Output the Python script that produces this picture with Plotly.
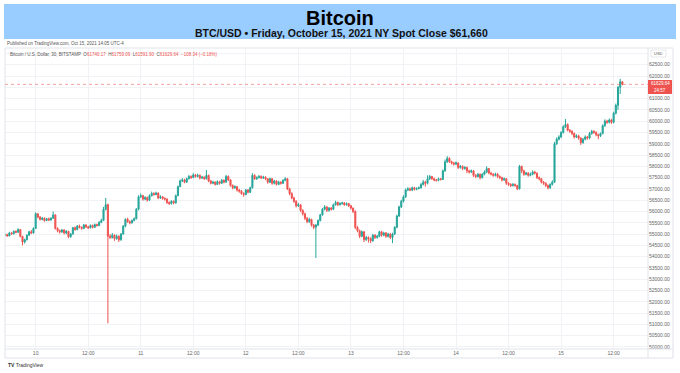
import pandas as pd
import plotly.graph_objects as go

# ---------------- data (30-minute BTC/USD candles) ----------------
start_time = "2021-10-09 17:00"
opens = [
    54950, 54980, 54920, 55050, 55010, 55120, 55080, 55200, 54900, 54650,
    54750, 54950, 55100, 55050, 55250, 55900, 55750, 55650, 55700, 55600,
    55680, 55620, 55700, 55850, 55250, 55150, 55100, 55180, 55050, 55120,
    54880, 55000, 55280, 55200, 55350, 55300, 55250, 55400, 55320, 55280,
    55380, 55300, 55420, 55380, 55520, 55600, 56100, 56300, 54900, 54850,
    54950, 54800, 54900, 54750, 55000, 55350, 55650, 55550, 55500, 55600,
    55680, 56100, 56650, 56700, 56550, 56620, 56500, 56700, 56800, 56750,
    56820, 56600, 56650, 56580, 56550, 56400, 56350, 56450, 56380, 56700,
    57100, 57350, 57400, 57300, 57450, 57550, 57500, 57620, 57550, 57600,
    57480, 57520, 57450, 57600, 57350, 57250, 57300, 57200, 57320, 57250,
    57380, 57300, 57550, 57400, 57150, 57050, 57100, 56950, 56900, 56800,
    56750, 56950, 56850, 57050, 57600, 57450, 57500, 57550, 57480, 57520,
    57450, 57300, 57450, 57250, 57350, 57200, 57300, 57250, 57380, 57450,
    57000, 56800, 56600, 56450, 56250, 56300, 56050, 55900, 55700, 55550,
    55650, 55400, 55300, 55400, 55600, 55850, 56100, 56200, 56050, 56150,
    56100, 56300, 56400, 56300, 56350, 56380, 56300, 56350, 56250, 56150,
    56000, 55300, 55150, 54900, 55100, 54750, 54850, 54800, 54700, 54950,
    54850, 54900, 55100, 54950, 55050, 54900, 55000, 54850, 55000, 55300,
    55800, 56200, 56450, 56650, 56950, 57000, 56950, 57050, 56980, 57020,
    57050, 57200, 57300, 57250, 57450, 57550, 57450, 57400, 57380, 57450,
    57420, 57800, 58200, 58350, 58200, 58150, 58100, 58150, 57950, 58000,
    57900, 57950, 57800, 57750, 57800, 57600, 57550, 57650, 57500, 57650,
    57750, 57900, 57700, 57650, 57600, 57650, 57550, 57500, 57400, 57450,
    57250, 57200, 57150, 57200, 57150, 57000, 58000, 57800, 57650, 57700,
    57600, 57650, 57750, 57700, 57500, 57450, 57300, 57250, 57150, 57050,
    57200, 57300, 59000, 59200, 59300, 59500, 59750, 59850, 59600, 59550,
    59450, 59300, 59350, 59250, 59050, 59200, 59300, 59250, 59450, 59550,
    59500, 59400, 59350, 59450, 59800, 60000, 59950, 60050, 59950, 60350,
    60700, 61500, 61740.17,
]
highs = [
    55030, 55010, 55100, 55090, 55160, 55170, 55260, 55220, 54920, 54800,
    54990, 55150, 55180, 55300, 55960, 55930, 55800, 55760, 55740, 55720,
    55730, 55750, 56000, 55870, 55300, 55200, 55230, 55210, 55180, 55140,
    55050, 55320, 55340, 55400, 55420, 55340, 55450, 55440, 55360, 55430,
    55420, 55470, 55460, 55570, 55680, 56200, 56600, 56350, 55000, 55050,
    54990, 54980, 54950, 55050, 55400, 55700, 55720, 55600, 55650, 55740,
    56150, 56720, 56800, 56740, 56680, 56660, 56760, 56880, 56850, 56880,
    56840, 56720, 56690, 56630, 56580, 56450, 56500, 56490, 56750, 57150,
    57420, 57480, 57450, 57500, 57620, 57600, 57700, 57660, 57680, 57640,
    57580, 57560, 57840, 57630, 57400, 57360, 57340, 57380, 57360, 57440,
    57420, 57620, 57600, 57430, 57200, 57160, 57130, 57000, 56950, 56850,
    57000, 56990, 57100, 57700, 57650, 57560, 57620, 57600, 57580, 57560,
    57480, 57500, 57480, 57400, 57380, 57360, 57340, 57430, 57520, 57480,
    57050, 56850, 56650, 56500, 56380, 56330, 56100, 55950, 55760, 55720,
    55680, 55450, 55450, 55650, 55900, 56160, 56280, 56240, 56200, 56200,
    56350, 56480, 56440, 56410, 56430, 56420, 56400, 56380, 56290, 56180,
    56050, 55350, 55200, 55160, 55130, 54920, 54900, 54860, 55000, 55000,
    54960, 55150, 55140, 55100, 55090, 55060, 55040, 55060, 55350, 55860,
    56260, 56520, 56720, 57020, 57080, 57060, 57100, 57090, 57070, 57110,
    57260, 57400, 57360, 57600, 57620, 57580, 57500, 57440, 57500, 57480,
    57860, 58300, 58450, 58400, 58250, 58200, 58220, 58180, 58060, 58040,
    58010, 57990, 57850, 57860, 57830, 57650, 57700, 57680, 57700, 57820,
    58000, 57930, 57760, 57700, 57720, 57700, 57600, 57540, 57500, 57480,
    57300, 57250, 57260, 57240, 57180, 58060, 58030, 57850, 57760, 57740,
    57720, 57820, 57800, 57730, 57550, 57480, 57350, 57290, 57200, 57250,
    57380, 59080, 59280, 59380, 59560, 59820, 60100, 59900, 59650, 59600,
    59500, 59420, 59400, 59290, 59260, 59370, 59350, 59520, 59620, 59600,
    59550, 59450, 59500, 59860, 60080, 60060, 60120, 60100, 60420, 60780,
    61560, 61870, 61759.09,
]
lows = [
    54900, 54880, 54900, 54970, 54990, 55040, 55060, 54850, 54500, 54580,
    54720, 54920, 55000, 55020, 55230, 55700, 55600, 55610, 55550, 55570,
    55580, 55590, 55680, 55200, 55080, 55020, 55050, 54980, 54990, 54820,
    54840, 54980, 55150, 55170, 55250, 55190, 55220, 55270, 55220, 55250,
    55250, 55270, 55330, 55350, 55480, 55580, 56050, 51050, 54780, 54800,
    54700, 54750, 54650, 54700, 54980, 55300, 55500, 55430, 55460, 55560,
    55650, 56050, 56600, 56480, 56500, 56440, 56470, 56660, 56700, 56720,
    56550, 56560, 56520, 56480, 56330, 56290, 56310, 56320, 56350, 56680,
    57080, 57300, 57250, 57270, 57420, 57440, 57480, 57500, 57510, 57420,
    57440, 57400, 57420, 57300, 57200, 57210, 57150, 57170, 57190, 57220,
    57250, 57280, 57350, 57100, 56980, 57000, 56880, 56830, 56740, 56650,
    56720, 56800, 56820, 57020, 57400, 57400, 57460, 57430, 57440, 57390,
    57230, 57260, 57180, 57200, 57150, 57170, 57190, 57220, 57340, 56950,
    56720, 56540, 56380, 56180, 56200, 55980, 55820, 55620, 55480, 55500,
    55330, 55220, 53940, 55350, 55560, 55820, 56050, 55980, 55990, 56040,
    56060, 56260, 56240, 56260, 56300, 56250, 56260, 56200, 56090, 55930,
    55220, 55080, 54820, 54860, 54650, 54700, 54620, 54600, 54660, 54780,
    54800, 54860, 54880, 54900, 54830, 54850, 54780, 54600, 54960, 55260,
    55760, 56150, 56400, 56600, 56900, 56900, 56900, 56930, 56940, 56980,
    57010, 57150, 57100, 57200, 57400, 57400, 57340, 57320, 57340, 57370,
    57400, 57760, 58150, 58150, 58080, 58030, 58050, 57880, 57900, 57830,
    57850, 57700, 57680, 57700, 57530, 57480, 57500, 57420, 57460, 57600,
    57700, 57650, 57600, 57540, 57550, 57480, 57440, 57330, 57350, 57180,
    57130, 57080, 57100, 57090, 56950, 56980, 57700, 57580, 57600, 57540,
    57560, 57600, 57640, 57440, 57380, 57240, 57180, 57080, 56980, 57000,
    57150, 57280, 58950, 59150, 59250, 59450, 59700, 59550, 59480, 59380,
    59230, 59250, 59180, 58950, 59000, 59150, 59180, 59200, 59400, 59440,
    59330, 59200, 59300, 59420, 59750, 59880, 59900, 59880, 59900, 60300,
    60500, 61200, 61591.90,
]
closes = [
    54980, 54920, 55050, 55010, 55120, 55080, 55200, 54900, 54650, 54750,
    54950, 55100, 55050, 55250, 55900, 55750, 55650, 55700, 55600, 55680,
    55620, 55700, 55850, 55250, 55150, 55100, 55180, 55050, 55120, 54880,
    55000, 55280, 55200, 55350, 55300, 55250, 55400, 55320, 55280, 55380,
    55300, 55420, 55380, 55520, 55600, 56100, 56300, 54900, 54850, 54950,
    54800, 54900, 54750, 55000, 55350, 55650, 55550, 55500, 55600, 55680,
    56100, 56650, 56700, 56550, 56620, 56500, 56700, 56800, 56750, 56820,
    56600, 56650, 56580, 56550, 56400, 56350, 56450, 56380, 56700, 57100,
    57350, 57400, 57300, 57450, 57550, 57500, 57620, 57550, 57600, 57480,
    57520, 57450, 57600, 57350, 57250, 57300, 57200, 57320, 57250, 57380,
    57300, 57550, 57400, 57150, 57050, 57100, 56950, 56900, 56800, 56750,
    56950, 56850, 57050, 57600, 57450, 57500, 57550, 57480, 57520, 57450,
    57300, 57450, 57250, 57350, 57200, 57300, 57250, 57380, 57450, 57000,
    56800, 56600, 56450, 56250, 56300, 56050, 55900, 55700, 55550, 55650,
    55400, 55300, 55400, 55600, 55850, 56100, 56200, 56050, 56150, 56100,
    56300, 56400, 56300, 56350, 56380, 56300, 56350, 56250, 56150, 56000,
    55300, 55150, 54900, 55100, 54750, 54850, 54800, 54700, 54950, 54850,
    54900, 55100, 54950, 55050, 54900, 55000, 54850, 55000, 55300, 55800,
    56200, 56450, 56650, 56950, 57000, 56950, 57050, 56980, 57020, 57050,
    57200, 57300, 57250, 57450, 57550, 57450, 57400, 57380, 57450, 57420,
    57800, 58200, 58350, 58200, 58150, 58100, 58150, 57950, 58000, 57900,
    57950, 57800, 57750, 57800, 57600, 57550, 57650, 57500, 57650, 57750,
    57900, 57700, 57650, 57600, 57650, 57550, 57500, 57400, 57450, 57250,
    57200, 57150, 57200, 57150, 57000, 58000, 57800, 57650, 57700, 57600,
    57650, 57750, 57700, 57500, 57450, 57300, 57250, 57150, 57050, 57200,
    57300, 59000, 59200, 59300, 59500, 59750, 59850, 59600, 59550, 59450,
    59300, 59350, 59250, 59050, 59200, 59300, 59250, 59450, 59550, 59500,
    59400, 59350, 59450, 59800, 60000, 59950, 60050, 59950, 60350, 60700,
    61500, 61750, 61629.64,
]
last_price = 61629.64
last_price_text = "61629.64"
countdown_text = "24:57"
y_ticks = list(range(50000, 63001, 500))
hidden_y_ticks = [61500, 63000]   # covered by the price badge / USD badge in the picture
x_tick_times = ["2021-10-10 00:00", "2021-10-10 12:00", "2021-10-11 00:00", "2021-10-11 12:00",
                "2021-10-12 00:00", "2021-10-12 12:00", "2021-10-13 00:00", "2021-10-13 12:00",
                "2021-10-14 00:00", "2021-10-14 12:00", "2021-10-15 00:00", "2021-10-15 12:00"]
x_tick_text = ["10", "12:00", "11", "12:00", "12", "12:00", "13", "12:00", "14", "12:00", "15", "12:00"]

times = pd.date_range(start_time, periods=len(closes), freq="30min")
y_tick_text = ["" if v in hidden_y_ticks else f"{v:.2f}" for v in y_ticks]

# ---------------- layout helpers ----------------
W, H = 680, 373
def px(x):
    return x / W
def py(y):
    return 1 - y / H

UP, DOWN = "#26a69a", "#ef5350"
GRID = "#f0f2f6"
FRAME = "#e0e3eb"
FONT = "Liberation Sans, Arial, sans-serif"

fig = go.Figure()
fig.add_trace(go.Candlestick(
    x=times, open=opens, high=highs, low=lows, close=closes,
    increasing=dict(line=dict(color=UP, width=1), fillcolor=UP),
    decreasing=dict(line=dict(color=DOWN, width=1), fillcolor=DOWN),
    whiskerwidth=0, showlegend=False, hoverinfo="skip",
))

PLOT_L, PLOT_R, PLOT_T, PLOT_B = 5, 648, 48, 349

fig.update_layout(
    width=W, height=H,
    margin=dict(l=0, r=0, t=0, b=0),
    paper_bgcolor="white", plot_bgcolor="white",
    font=dict(family=FONT, color="#555"),
    showlegend=False,
    xaxis=dict(
        domain=[px(PLOT_L), px(PLOT_R)],
        type="date",
        range=["2021-10-09 17:00", "2021-10-15 19:51"],
        rangeslider=dict(visible=False),
        tickvals=x_tick_times, ticktext=x_tick_text,
        tickfont=dict(size=5, color="#666"),
        showgrid=True, gridcolor=GRID, gridwidth=1,
        zeroline=False, showline=False, ticks="",
    ),
    yaxis=dict(
        domain=[py(PLOT_B), py(PLOT_T)],
        side="right",
        range=[49911, 63240],
        tickvals=y_ticks, ticktext=y_tick_text,
        tickfont=dict(size=5, color="#666"),
        showgrid=True, gridcolor=GRID, gridwidth=1,
        zeroline=False, showline=False, ticks="",
    ),
)

shapes = [
    # title band
    dict(type="rect", xref="paper", yref="paper", x0=px(4), x1=px(676), y0=py(39), y1=py(4),
         fillcolor="#99ccff", line=dict(width=0), layer="below"),
    # chart frame
    dict(type="rect", xref="paper", yref="paper", x0=px(5), x1=px(673), y0=py(358), y1=py(48),
         line=dict(color=FRAME, width=1), fillcolor="rgba(0,0,0,0)"),
    dict(type="line", xref="paper", yref="paper", x0=px(PLOT_R), x1=px(PLOT_R), y0=py(358), y1=py(48),
         line=dict(color=FRAME, width=1)),
    dict(type="line", xref="paper", yref="paper", x0=px(5), x1=px(673), y0=py(PLOT_B), y1=py(PLOT_B),
         line=dict(color=FRAME, width=1)),
    # last price line
    dict(type="line", xref="x domain", yref="y", x0=0, x1=1, y0=last_price, y1=last_price,
         line=dict(color="rgba(239,83,80,0.55)", width=1, dash="dot")),
    # last price label box
    dict(type="rect", xref="paper", yref="paper", x0=px(648), x1=px(672), y0=py(94), y1=py(80),
         fillcolor=DOWN, line=dict(width=0)),
    # USD box
    dict(type="rect", xref="paper", yref="paper", x0=px(651), x1=px(666), y0=py(57), y1=py(50),
         fillcolor="white", line=dict(color="#d0d3db", width=0.5)),
]
fig.update_layout(shapes=shapes)

ann = [
    dict(text="<b>Bitcoin</b>", x=px(340), y=py(18), font=dict(size=20, color="black", family=FONT)),
    dict(text="<b>BTC/USD • Friday, October 15, 2021 NY Spot Close $61,660</b>", x=px(341), y=py(33),
         font=dict(size=10.5, color="#111", family=FONT)),
    dict(text="Published on TradingView.com, Oct 15, 2021 14:05 UTC-4", x=px(5), y=py(43.5), xanchor="left",
         font=dict(size=4.5, color="#555")),
    dict(text=("Bitcoin / U.S. Dollar, 30, BITSTAMP  "
               "<span style='color:#555'>O</span><span style='color:#ef5350'>61740.17</span>  "
               "<span style='color:#555'>H</span><span style='color:#ef5350'>61759.09</span>  "
               "<span style='color:#555'>L</span><span style='color:#ef5350'>61591.90</span>  "
               "<span style='color:#555'>C</span><span style='color:#ef5350'>61629.64  −108.34 (−0.18%)</span>"),
         x=px(8), y=py(55), xanchor="left", font=dict(size=4.5, color="#555")),
    dict(text=last_price_text, x=px(660), y=py(83.8), font=dict(size=4.5, color="white")),
    dict(text=countdown_text, x=px(660), y=py(90.2), font=dict(size=4.5, color="white")),
    dict(text="USD", x=px(658.5), y=py(53.5), font=dict(size=4, color="#555")),
    dict(text="<b>TV</b> TradingView", x=px(6), y=py(365), xanchor="left",
         font=dict(size=5, color="#333")),
]
for a in ann:
    a.setdefault("xref", "paper")
    a.setdefault("yref", "paper")
    a.setdefault("xanchor", "center")
    a.setdefault("yanchor", "middle")
    a["showarrow"] = False
fig.update_layout(annotations=ann)

fig.write_html("out.html")
